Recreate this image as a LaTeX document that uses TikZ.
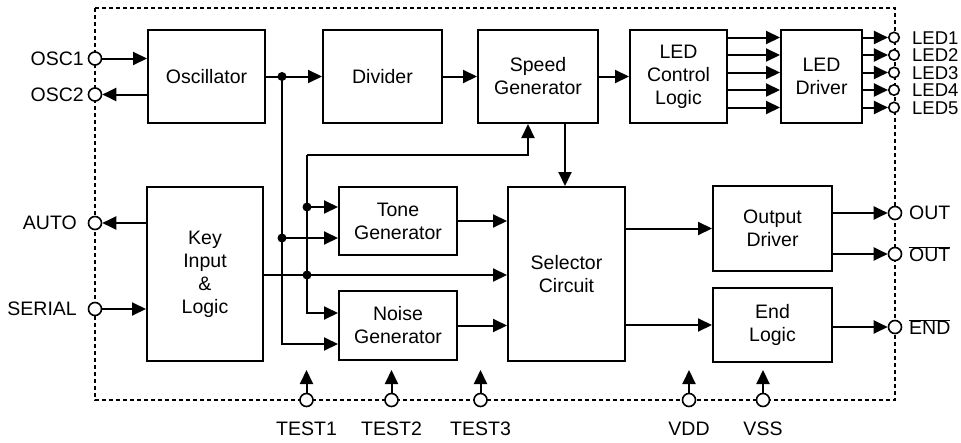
\documentclass[tikz,border=0pt]{standalone}
\usepackage{fontspec}
\setmainfont{Liberation Sans}
\usetikzlibrary{arrows.meta,calc}
\newcommand\ovl[1]{$\overline{\hbox{#1}}$}
\begin{document}
\begin{tikzpicture}[x=1pt,y=-1pt,
  blk/.style={draw,line width=2pt,align=center,inner sep=0pt,font=\fontsize{19.5}{23}\selectfont},
  pin/.style={draw,circle,line width=1.6pt,fill=white,minimum size=13pt,inner sep=0pt},
  ledpin/.style={pin,minimum size=10.5pt},
  wire/.style={line width=2pt},
  arr/.style={wire,-{Triangle[length=14pt,width=13pt]}},
  jdot/.style={circle,fill,inner sep=0pt,minimum size=9pt},
  lbl/.style={font=\fontsize{19.5}{22}\selectfont,inner sep=0pt},
  ledlbl/.style={font=\fontsize{18.5}{20}\selectfont,inner sep=0pt,text height=13pt,text depth=0pt},
  frame/.style={line width=1.4pt,dash pattern=on 4pt off 3pt}]
\useasboundingbox (0,0) rectangle (961,442);
\draw[frame] (95,8) rectangle (895,400);
% blocks
\node[blk,minimum width=117pt,minimum height=93pt] (osc) at (206.5,76.5) {Oscillator};
\node[blk,minimum width=119pt,minimum height=93pt] (div) at (382.5,76.5) {Divider};
\node[blk,minimum width=120pt,minimum height=93pt] (spd) at (538,76.5) {Speed\\Generator};
\node[blk,minimum width=97pt,minimum height=93pt] (ledc) at (678.5,76.5) {LED\\Control\\Logic};
\node[blk,minimum width=81pt,minimum height=93pt] (ledd) at (821.5,76.5) {LED\\Driver};
\node[blk,minimum width=116pt,minimum height=174pt] (key) at (205,274) {Key\\Input\\\&\\Logic};
\node[blk,minimum width=118pt,minimum height=68pt] (tone) at (398,221) {Tone\\Generator};
\node[blk,minimum width=118pt,minimum height=69pt] (noise) at (398,325.5) {Noise\\Generator};
\node[blk,minimum width=117pt,minimum height=174pt] (sel) at (566.5,274) {Selector\\Circuit};
\node[blk,minimum width=119pt,minimum height=85pt] (outd) at (772.5,228.5) {Output\\Driver};
\node[blk,minimum width=119pt,minimum height=74pt] (endl) at (772.5,325) {End\\Logic};
% pins
\node[pin] (osc1) at (95,58.5) {};
\node[pin] (osc2) at (95,94.5) {};
\node[pin] (auto) at (95,223) {};
\node[pin] (serial) at (95,309) {};
\foreach \i/\y in {1/37.5,2/55,3/72.5,4/90,5/107.5}{
  \node[ledpin] (led\i) at (894,\y) {};
  \node[ledlbl,anchor=west] (ledl\i) at (912,\y) {LED\i};
}
\node[pin] (out) at (895,213) {};
\node[pin] (outb) at (895,254) {};
\node[pin] (endb) at (895,327) {};
\node[pin] (test1) at (306.5,400) {};
\node[pin] (test2) at (391.5,400) {};
\node[pin] (test3) at (480.5,400) {};
\node[pin] (vdd) at (689,400) {};
\node[pin] (vss) at (763,400) {};
% labels
\node[lbl,anchor=east] (losc1) at (84,58.5) {OSC1};
\node[lbl,anchor=east] (losc2) at (84,94.5) {OSC2};
\node[lbl,anchor=east] (lauto) at (77,223) {AUTO};
\node[lbl,anchor=east] (lserial) at (77,309) {SERIAL};
\node[lbl,anchor=west] (lout) at (909,213) {OUT};
\node[lbl,anchor=west] (loutb) at (909,254) {\ovl{OUT}};
\node[lbl,anchor=west] (lendb) at (909,327) {\ovl{END}};
\node[lbl,anchor=north] (ltest1) at (306.5,422) {TEST1};
\node[lbl,anchor=north] (ltest2) at (391.5,422) {TEST2};
\node[lbl,anchor=north] (ltest3) at (480.5,422) {TEST3};
\node[lbl,anchor=north] (lvdd) at (689,422) {VDD};
\node[lbl,anchor=north] (lvss) at (763,422) {VSS};
% coordinates
\coordinate (j1) at (282,76.5);
\coordinate (a1) at (282,238);
\coordinate (c1) at (282,344);
\coordinate (b0) at (307,155);
\coordinate (b1) at (307,207);
\coordinate (b2) at (307,275);
\coordinate (n1) at (307,313);
\coordinate (spin) at ($(spd.south)+(-10,0)$);
\coordinate (sdn) at ($(spd.south)+(27,0)$);
% wires
\draw[arr] (osc1) -- (osc1 -| osc.west);
\draw[arr] (osc.west |- osc2) -- (osc2);
\draw[arr] (osc) -- (div);
\draw[arr] (div) -- (spd);
\draw[arr] (spd) -- (ledc);
\foreach \i in {1,...,5}{
  \draw[arr] (ledc.east |- led\i) -- (ledd.west |- led\i);
  \draw[arr] (ledd.east |- led\i) -- (led\i);
}
\draw[arr] (j1) |- (noise.west |- c1);
\draw[arr] (a1) -- (tone.west |- a1);
\draw[arr] (b0) -| (spin);
\draw[arr] (b0) |- (noise.west |- n1);
\draw[arr] (b1) -- (tone.west |- b1);
\draw[arr] (key.east |- b2) -- (sel.west |- b2);
\draw[arr] (tone) -- (sel.west |- tone);
\draw[arr] (noise) -- (sel.west |- noise);
\draw[arr] (sdn) -- (sel.north -| sdn);
\draw[arr] (sel.east |- outd) -- (outd);
\draw[arr] (sel.east |- endl) -- (endl);
\draw[arr] (outd.east |- out) -- (out);
\draw[arr] (outd.east |- outb) -- (outb);
\draw[arr] (endl.east |- endb) -- (endb);
\draw[arr] (key.west |- auto) -- (auto);
\draw[arr] (serial) -- (serial -| key.west);
\foreach \p in {test1,test2,test3,vdd,vss}{
  \coordinate (\p t) at ($(\p)+(0,-30)$);
  \draw[arr] (\p) -- (\p t);
}
\foreach \d in {j1,a1,b1,b2}{ \node[jdot] at (\d) {}; }
\end{tikzpicture}
\end{document}
